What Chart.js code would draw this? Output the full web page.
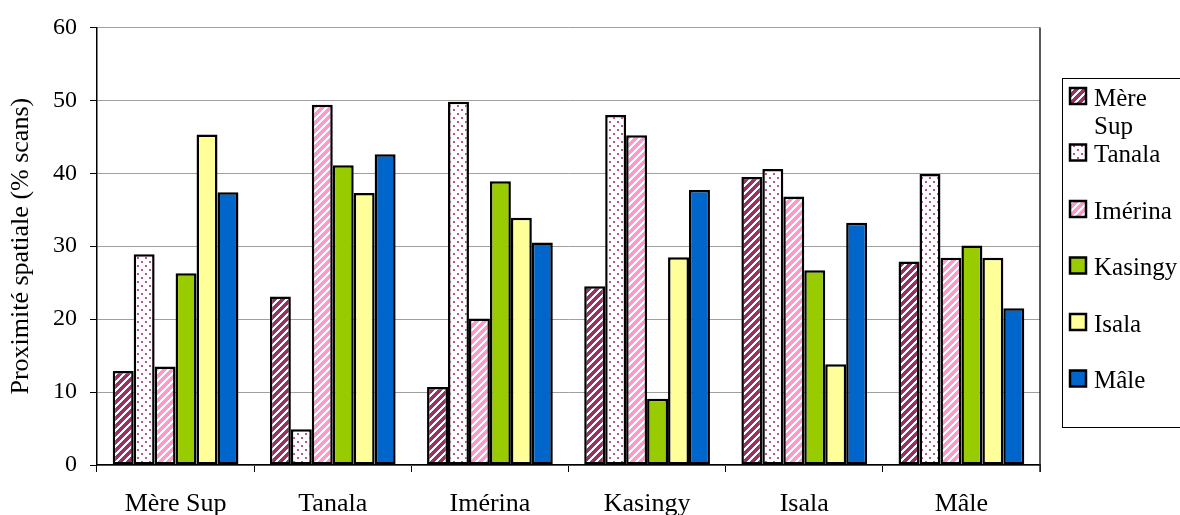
<!DOCTYPE html>
<html>
<head>
<meta charset="utf-8">
<script src="https://cdn.jsdelivr.net/npm/chart.js@4.4.1/dist/chart.umd.min.js"></script>
<style>
  html, body { margin: 0; padding: 0; background: #ffffff; }
  #wrap { width: 1180px; height: 515px; }
</style>
</head>
<body>
<div id="wrap"><canvas id="c" width="1180" height="515"></canvas></div>
<script>
// Groups on the x axis
const categories = ['Mère Sup', 'Tanala', 'Imérina', 'Kasingy', 'Isala', 'Mâle'];

// Series names (legend)
const seriesNames = ['Mère Sup', 'Tanala', 'Imérina', 'Kasingy', 'Isala', 'Mâle'];

// Spatial proximity (% of scans), one value per group
const mereSup = [12.9, 23.1, 10.7, 24.5, 39.5, 27.9];
const tanala  = [28.9, 4.9, 49.8, 48.0, 40.6, 39.9];
const imerina = [13.5, 49.4, 20.1, 45.2, 36.8, 28.4];
const kasingy = [26.3, 41.1, 38.9, 9.1, 26.7, 30.1];
const isala   = [45.3, 37.3, 33.9, 28.5, 13.8, 28.4];
const male    = [37.4, 42.6, 30.5, 37.7, 33.2, 21.5];

// Y axis
const yTicks = [0, 10, 20, 30, 40, 50, 60];
const yTitle = 'Proximité spatiale (% scans)';

const FONT = '"Liberation Serif", "Times New Roman", serif';

// ---- fill patterns ----
function hexToRgb(h) {
  const n = parseInt(h.slice(1), 16);
  return [(n >> 16) & 255, (n >> 8) & 255, n & 255];
}
function stripePattern(bg) {
  const t = document.createElement('canvas');
  t.width = 8; t.height = 8;
  const g = t.getContext('2d');
  const img = g.createImageData(8, 8);
  const c = hexToRgb(bg);
  for (let y = 0; y < 8; y++) {
    for (let x = 0; x < 8; x++) {
      const i = (y * 8 + x) * 4;
      const white = ((x + y) % 8) < 3;
      img.data[i] = white ? 255 : c[0];
      img.data[i + 1] = white ? 255 : c[1];
      img.data[i + 2] = white ? 255 : c[2];
      img.data[i + 3] = 255;
    }
  }
  g.putImageData(img, 0, 0);
  return g.createPattern(t, 'repeat');
}
function dotPattern(dot) {
  const t = document.createElement('canvas');
  t.width = 8; t.height = 8;
  const g = t.getContext('2d');
  g.fillStyle = '#ffffff';
  g.fillRect(0, 0, 8, 8);
  g.fillStyle = dot;
  g.fillRect(1, 1, 2, 2);
  g.fillRect(5, 5, 2, 2);
  return g.createPattern(t, 'repeat');
}

const fills = [
  stripePattern('#993366'),
  dotPattern('#b35a88'),
  stripePattern('#ff99cc'),
  '#99cc00',
  '#ffff99',
  '#0066cc'
];
const seriesValues = [mereSup, tanala, imerina, kasingy, isala, male];

const datasets = seriesNames.map((name, i) => ({
  label: name,
  data: seriesValues[i],
  backgroundColor: fills[i],
  borderColor: '#000000',
  borderWidth: 2.5,
  borderSkipped: false,
  categoryPercentage: 0.8,
  barPercentage: 1.0
}));

// White page background
const bgPlugin = {
  id: 'bg',
  beforeDraw(chart) {
    const ctx = chart.ctx;
    ctx.save();
    ctx.fillStyle = '#ffffff';
    ctx.fillRect(0, 0, chart.width, chart.height);
    ctx.restore();
  }
};

// Right edge of the plot area
const framePlugin = {
  id: 'frame',
  afterDraw(chart) {
    const a = chart.chartArea;
    const ctx = chart.ctx;
    ctx.save();
    ctx.strokeStyle = '#222222';
    ctx.lineWidth = 1.5;
    ctx.beginPath();
    ctx.moveTo(a.right, a.top);
    ctx.lineTo(a.right, a.bottom + 7);
    ctx.stroke();
    ctx.restore();
  }
};

// Boxed legend at the right, labels wrapped to the box width
const legendPlugin = {
  id: 'boxLegend',
  afterDraw(chart) {
    const ctx = chart.ctx;
    const left = 1062, top = 78, bottom = 427;
    const textX = 1094, maxW = 84;
    ctx.save();
    ctx.strokeStyle = '#000000';
    ctx.lineWidth = 1;
    ctx.strokeRect(left + 0.5, top + 0.5, 1180 - left + 5, bottom - top);
    ctx.font = '25px ' + FONT;
    ctx.textBaseline = 'middle';
    ctx.textAlign = 'left';
    chart.data.datasets.forEach((ds, i) => {
      const y = 99 + i * 56.5;
      // swatch
      ctx.fillStyle = ds.backgroundColor;
      ctx.fillRect(1070, y - 11, 16, 16);
      ctx.lineWidth = 2.5;
      ctx.strokeStyle = '#000000';
      ctx.strokeRect(1070, y - 11, 16, 16);
      // label, wrapped on spaces
      const words = ds.label.split(' ');
      const lines = [];
      let cur = '';
      words.forEach(w => {
        const test = cur ? cur + ' ' + w : w;
        if (cur && ctx.measureText(test).width > maxW) { lines.push(cur); cur = w; }
        else cur = test;
      });
      lines.push(cur);
      ctx.fillStyle = '#000000';
      lines.forEach((ln, k) => ctx.fillText(ln, textX, y + k * 28));
    });
    ctx.restore();
  }
};

new Chart(document.getElementById('c'), {
  type: 'bar',
  data: { labels: categories, datasets },
  plugins: [bgPlugin, framePlugin, legendPlugin],
  options: {
    responsive: false,
    animation: false,
    layout: { padding: { left: 0, right: 140, top: 27, bottom: 0 } },
    plugins: {
      legend: { display: false },
      tooltip: { enabled: false }
    },
    scales: {
      x: {
        grid: {
          offset: true,
          drawOnChartArea: false,
          drawTicks: true,
          tickLength: 7,
          color: '#000000',
          lineWidth: 1
        },
        border: { display: true, color: '#000000', width: 1.5 },
        ticks: {
          color: '#000000',
          font: { family: FONT, size: 26 },
          padding: 17,
          maxRotation: 0
        },
        afterFit(scale) { scale.height = 50; }
      },
      y: {
        min: 0,
        max: 60,
        afterBuildTicks(scale) { scale.ticks = yTicks.map(v => ({ value: v })); },
        grid: {
          color: '#a0a0a0',
          lineWidth: 1,
          tickLength: 7,
          tickColor: '#000000'
        },
        border: { display: true, color: '#000000', width: 1.5 },
        ticks: {
          color: '#000000',
          font: { family: FONT, size: 24 },
          padding: 13
        },
        title: {
          display: true,
          text: yTitle,
          color: '#000000',
          font: { family: FONT, size: 26 },
          padding: { top: 6, bottom: 0 }
        },
        afterFit(scale) { scale.width = 97; }
      }
    }
  }
});
</script>
</body>
</html>
